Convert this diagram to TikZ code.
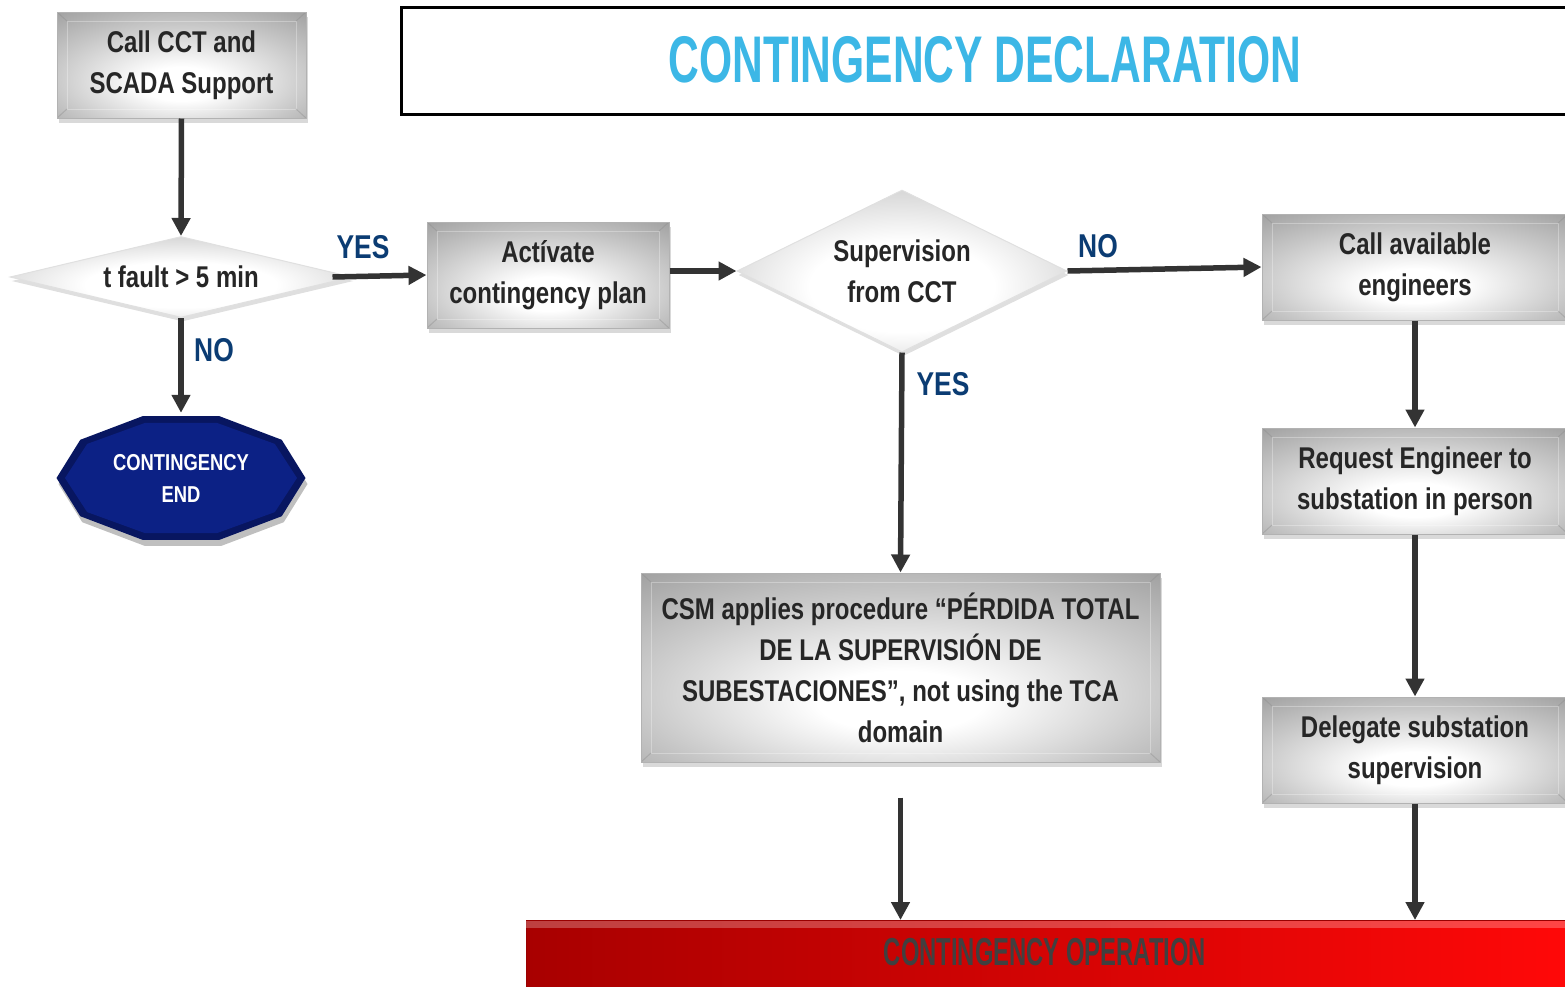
\documentclass[tikz,border=0pt]{standalone}
\usepackage{fontspec}
\setmainfont{Liberation Sans}[FakeStretch=0.8]
\newfontfamily\titlefont{Liberation Sans}[FakeStretch=0.645]
\newfontfamily\barfont{Liberation Sans}[FakeStretch=0.61]
\usetikzlibrary{shapes.geometric, arrows.meta, shadows, calc}

\definecolor{arrowgray}{HTML}{333333}
\definecolor{labelblue}{HTML}{0B3C73}
\definecolor{titlecyan}{HTML}{3CB7E6}
\definecolor{navyfill}{HTML}{0C2185}
\definecolor{navyedge}{HTML}{081660}
\definecolor{boxtext}{HTML}{262626}
\definecolor{bardark}{HTML}{A80000}
\definecolor{barlight}{HTML}{FF0808}

% bevelled grey fill of the process boxes
\pgfdeclareradialshading{greybevel}{\pgfpoint{0bp}{-10bp}}{%
  color(0bp)=(white); color(8bp)=(white); color(26bp)=(black!22);
  color(40bp)=(black!38); color(55bp)=(black!48); color(75bp)=(black!55)}
% lighter fill of the decision diamonds
\pgfdeclareradialshading{diafill}{\pgfpoint{0bp}{-6bp}}{%
  color(0bp)=(white); color(14bp)=(white); color(30bp)=(black!17);
  color(42bp)=(black!32); color(55bp)=(black!42); color(75bp)=(black!48)}

\begin{document}
\begin{tikzpicture}[x=1pt, y=-1pt,
  flow/.style={line width=5.5pt, draw=arrowgray,
    -{Triangle[length=18pt, width=18pt]}},
  boxfont/.style={font=\fontsize{30}{41}\selectfont\bfseries, text=boxtext},
  gbox/.style={rectangle, boxfont, align=center, inner sep=0pt,
    minimum width=249pt, minimum height=106pt,
    shading=greybevel, draw=black!30, line width=1pt,
    drop shadow={shadow xshift=1.5pt, shadow yshift=-5pt, opacity=0.3},
    path picture={
      \draw[white, opacity=0.3, line width=1pt]
        ($(path picture bounding box.north west)+(10pt,-9pt)$) rectangle
        ($(path picture bounding box.south east)+(-10pt,9pt)$);
      \draw[black!45, opacity=0.4, line width=1pt]
        (path picture bounding box.north west) -- ++(10pt,-9pt)
        (path picture bounding box.north east) -- ++(-10pt,-9pt)
        (path picture bounding box.south west) -- ++(10pt,9pt)
        (path picture bounding box.south east) -- ++(-10pt,9pt);
    }},
  gdia/.style={diamond, boxfont, align=center, inner sep=0pt,
    shading=diafill, draw=black!12, line width=1pt,
    drop shadow={shadow xshift=1.5pt, shadow yshift=-4pt, opacity=0.25}},
  lab/.style={text=labelblue, font=\fontsize{33}{33}\selectfont\bfseries}
]
\useasboundingbox (0,0) rectangle (1565,986);

% title banner
\node[draw=black, line width=2.5pt, minimum width=1180pt, minimum height=107pt,
  anchor=north west, inner sep=0pt] (titlebox) at (400,6) {};
\node[text=titlecyan, font=\titlefont\fontsize{66}{66}\selectfont\bfseries]
  (title) at (985,60) {CONTINGENCY DECLARATION};

% process boxes and decisions
\node[gbox] (call) at (181.5,65) {Call CCT and\\SCADA Support};
\node[gdia, minimum width=342pt, minimum height=81pt, aspect=4.2]
  (fault) at (181,277) {t fault > 5 min};
\node[gbox, minimum width=242pt] (activ) at (548,275)
  {Actívate\\contingency plan};
\node[gdia, minimum width=330pt, minimum height=162pt, aspect=2.04]
  (superv) at (902,271) {Supervision\\from CCT};
\node[gbox, minimum width=306pt] (engs) at (1415,267)
  {Call available\\engineers};
\node[gbox, minimum width=306pt] (request) at (1415,481)
  {Request Engineer to\\substation in person};
\node[gbox, minimum width=306pt] (deleg) at (1415,750)
  {Delegate substation\\supervision};
\node[gbox, minimum width=519pt, minimum height=189pt] (csm) at (900.5,667.5)
  {CSM applies procedure “PÉRDIDA TOTAL\\DE LA SUPERVISIÓN DE\\
   SUBESTACIONES”, not using the TCA\\domain};

% terminal: navy decagon
\fill[black, opacity=0.25] plot[samples at={0,36,...,324}]
  ({183+124.5*cos(\x)},{484+65*sin(\x)}) -- cycle;
\fill[navyedge] plot[samples at={0,36,...,324}]
  ({181+124.5*cos(\x)},{478+65*sin(\x)}) -- cycle;
\fill[navyfill] plot[samples at={0,36,...,324}]
  ({181+116*cos(\x)},{478+58*sin(\x)}) -- cycle;
\node[minimum width=249pt, minimum height=130pt, inner sep=0pt, align=center,
  text=white, font=\fontsize{23}{32}\selectfont\bfseries]
  (cend) at (181,478) {CONTINGENCY\\END};

% operation bar
\node[minimum width=1039pt, minimum height=70pt, anchor=north west, inner sep=0pt,
  left color=bardark, right color=barlight, draw=red!60!black, line width=0.8pt]
  (bar) at (526,920) {};
\fill[white, opacity=0.25] (526,921) rectangle (1565,928);
\node[text=black!75, font=\barfont\fontsize{39}{39}\selectfont\bfseries]
  (bartext) at (1045,952) {CONTINGENCY OPERATION};

% connectors
\draw[flow] (call.south) -- (fault.north);
\draw[flow] ([xshift=-20pt]fault.east) -- (activ.west);
\draw[flow] (fault.south) -- (cend.north);
\draw[flow] (activ.east |- superv.west) -- (superv.west);
\draw[flow] (superv.east) -- (engs.west);
\draw[flow] (superv.south) -- (csm.north);
\draw[flow] (engs.south) -- (request.north);
\draw[flow] (request.south) -- (deleg.north);
\draw[flow] ([yshift=-35pt]csm.south) -- (csm.south |- bar.north);
\draw[flow] (deleg.south) -- (deleg.south |- bar.north);

% branch labels
\node[lab] (yes1) at (363,247) {YES};
\node[lab] (no1) at (214,350) {NO};
\node[lab] (no2) at (1098,246) {NO};
\node[lab] (yes2) at (943,384) {YES};
\end{tikzpicture}
\end{document}
